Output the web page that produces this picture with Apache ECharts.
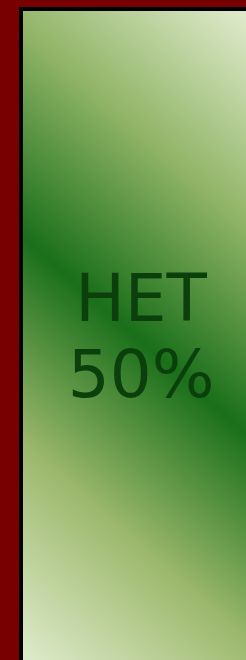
<!DOCTYPE html>
<html>
<head>
<meta charset="utf-8">
<script src="https://cdn.jsdelivr.net/npm/echarts@6/dist/echarts.min.js"></script>
<style>
  html, body { margin: 0; padding: 0; background: #780000; }
  #chart { width: 246px; height: 660px; }
</style>
</head>
<body>
<div id="chart"></div>
<script>
const categories = ["НЕТ"];
const values = [50];

const fill = {
  type: "linear",
  x: -0.383, y: 0.847, x2: 1.358, y2: 0.142,
  colorStops: [
    { offset: 0, color: "#dce9c8" },
    { offset: 0.25, color: "#9cb86c" },
    { offset: 0.5, color: "#1a6f1a" },
    { offset: 0.75, color: "#90b466" },
    { offset: 1, color: "#dde9c9" },
  ],
};

const chart = echarts.init(document.getElementById("chart"));
chart.setOption({
  backgroundColor: "#780000",
  animation: false,
  series: [
    {
      type: "treemap",
      left: 19,
      top: 7,
      width: 244,
      height: 670,
      roam: false,
      nodeClick: false,
      breadcrumb: { show: false },
      label: {
        show: true,
        position: "inside",
        formatter: "{b}\n{c}%",
        color: "#0b3f0b",
        fontFamily: "DejaVu Sans",
        fontSize: 66,
        lineHeight: 76,
        align: "center",
      },
      itemStyle: { borderColor: "#000", borderWidth: 2, gapWidth: 0 },
      data: categories.map((name, i) => ({
        name,
        value: values[i],
        itemStyle: { color: fill, borderColor: "#000", borderWidth: 2 },
      })),
    },
  ],
});
</script>
</body>
</html>
